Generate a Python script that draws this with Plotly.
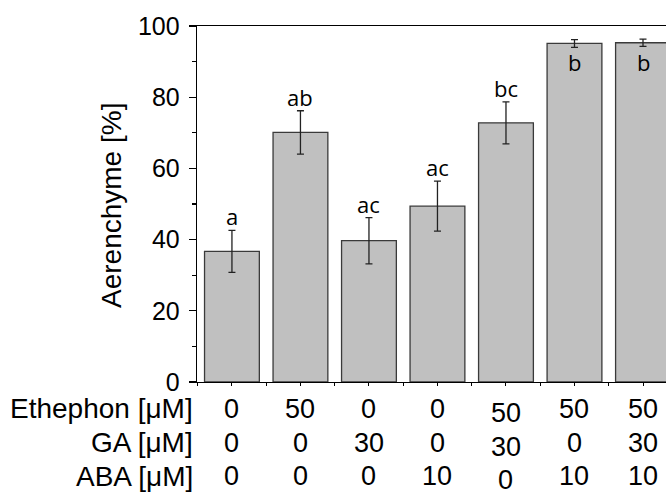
import plotly.graph_objects as go

# ---- data ----
aerenchyme = [36.7, 70.1, 39.7, 49.4, 72.8, 95.1, 95.3]
errors = [5.9, 6.1, 6.5, 7.0, 5.9, 1.1, 1.0]
letters = ["a", "ab", "ac", "ac", "bc", "b", "b"]
ethephon = ["0", "50", "0", "0", "50", "50", "50"]
ga = ["0", "0", "30", "0", "30", "0", "30"]
aba = ["0", "0", "0", "10", "0", "10", "10"]
row_labels = ["Ethephon [μM]", "GA [μM]", "ABA [μM]"]
y_ticks = [0, 20, 40, 60, 80, 100]

W, H = 666, 492
L, R, T, B = 197, 0, 26, 110
PW = W - L - R
PH = H - T - B

def px_x(px):
    return (px - L) / PW

def px_y(py):
    return (H - B - py) / PH

BASE_FONT = "Liberation Sans, Arial, sans-serif"
LETTER_FONT = "Open Sans, DejaVu Sans, sans-serif"

xs = list(range(len(aerenchyme)))

fig = go.Figure()
fig.add_trace(go.Bar(
    x=xs, y=aerenchyme, width=0.8,
    marker=dict(color="#c0c0c0", line=dict(color="#3a3a3a", width=1.3)),
    error_y=dict(type="data", array=errors, visible=True,
                 color="#222222", thickness=1.3, width=3.5),
    showlegend=False, hoverinfo="skip",
))

annotations = []
# significance letters
for i, (m, e, lt) in enumerate(zip(aerenchyme, errors, letters)):
    if m + e > 90:
        annotations.append(dict(x=i, y=m, xref="x", yref="y", text=lt,
                                showarrow=False, yanchor="top", yshift=-2,
                                font=dict(family=LETTER_FONT, size=22, color="#000")))
    else:
        annotations.append(dict(x=i, y=m + e, xref="x", yref="y", text=lt,
                                showarrow=False, yanchor="bottom", yshift=-3,
                                font=dict(family=LETTER_FONT, size=22, color="#000")))

# treatment table below the axis
row_py = [408.7, 442.5, 476.0]
for lab, py in zip(row_labels, row_py):
    annotations.append(dict(x=px_x(195), y=px_y(py), xref="paper", yref="paper",
                            text=lab, showarrow=False, xanchor="right", yanchor="middle",
                            font=dict(family=BASE_FONT, size=28, color="#000")))
for row, py in zip([ethephon, ga, aba], row_py):
    for i, v in enumerate(row):
        annotations.append(dict(x=i, y=px_y(py), xref="x", yref="paper",
                                text=v, showarrow=False, xanchor="center", yanchor="middle",
                                yshift=-4 if i == 4 else 0,
                                font=dict(family=BASE_FONT, size=27, color="#000")))

# y-axis title
annotations.append(dict(x=px_x(111), y=px_y(206), xref="paper", yref="paper",
                        text="Aerenchyme [%]", textangle=-90, showarrow=False,
                        xanchor="center", yanchor="middle",
                        font=dict(family=BASE_FONT, size=28, color="#000")))

fig.update_layout(
    width=W, height=H,
    margin=dict(l=L, r=R, t=T, b=B, pad=0),
    plot_bgcolor="white", paper_bgcolor="white",
    bargap=0.2,
    annotations=annotations,
    xaxis=dict(range=[-0.51, (W - 232) / 68.5], tickmode="linear", tick0=0, dtick=0.5,
               showticklabels=False, ticks="outside", ticklen=3, tickcolor="#000",
               showline=True, linecolor="#000", linewidth=1.3, mirror=True,
               showgrid=False, zeroline=False, fixedrange=True),
    yaxis=dict(range=[0, 100], tickvals=y_ticks, ticktext=[str(t) for t in y_ticks],
               ticks="outside", ticklen=7, tickwidth=1.2, tickcolor="#000",
               minor=dict(ticks="outside", ticklen=4, dtick=10, tickcolor="#000", tickwidth=1.2),
               showline=True, linecolor="#000", linewidth=1.3,
               showgrid=False, zeroline=False, fixedrange=True,
               tickfont=dict(family=BASE_FONT, size=25, color="#000"),
               ticklabelstandoff=4),
)

fig.write_html("out.html", config={"displayModeBar": False, "staticPlot": True},
               post_script="document.body.style.margin='0';document.body.style.overflow='hidden';")
